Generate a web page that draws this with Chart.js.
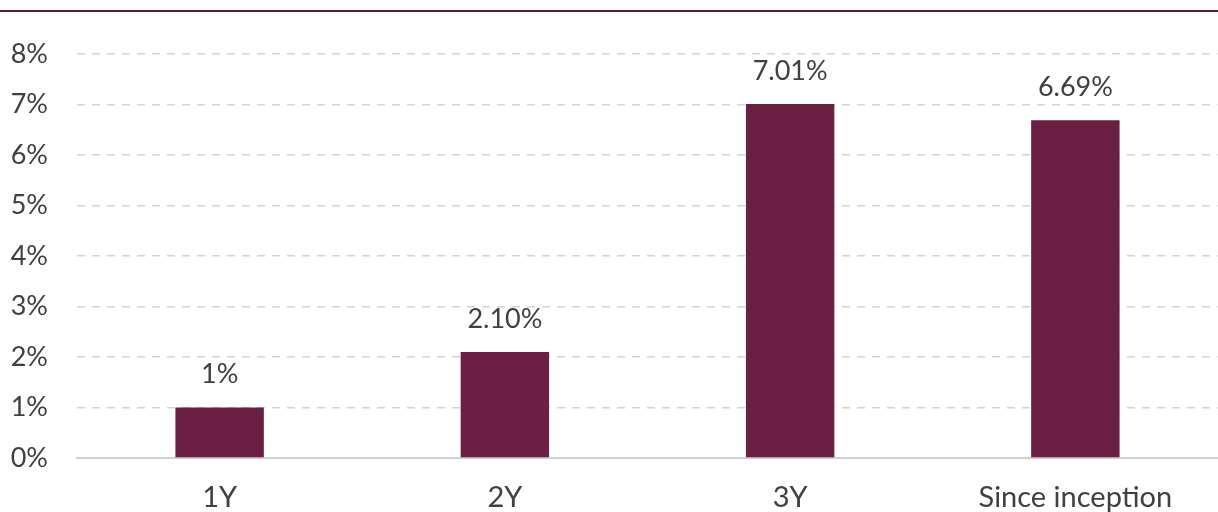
<!DOCTYPE html>
<html>
<head>
<meta charset="utf-8">
<script src="https://cdn.jsdelivr.net/npm/chart.js@4.4.1/dist/chart.umd.min.js"></script>
<style>
  html, body { margin: 0; padding: 0; background: #fff; }
  #wrap { position: relative; width: 1218px; height: 512px; }
  #rule { position: absolute; left: 0; top: 10px; width: 1218px; height: 2px; background: #5e1a3c; }
  canvas { position: absolute; left: 0; top: 0; }
</style>
</head>
<body>
<div id="wrap">
  <canvas id="chart" width="1218" height="512"></canvas>
  <div id="rule"></div>
</div>
<script>
const categories = ['1Y', '2Y', '3Y', 'Since inception'];
const returns = [1, 2.1, 7.01, 6.69];
const valueLabels = ['1%', '2.10%', '7.01%', '6.69%'];

const fontFamily = 'Lato, "Open Sans", sans-serif';

const barLabels = {
  id: 'barLabels',
  afterDatasetsDraw(chart) {
    const ctx = chart.ctx;
    const meta = chart.getDatasetMeta(0);
    ctx.save();
    ctx.font = `27px ${fontFamily}`;
    ctx.fillStyle = '#404040';
    ctx.textAlign = 'center';
    ctx.textBaseline = 'middle';
    meta.data.forEach((bar, i) => {
      ctx.fillText(valueLabels[i], bar.x, bar.y - 33);
    });
    ctx.restore();
  },
};

new Chart(document.getElementById('chart'), {
  type: 'bar',
  data: {
    labels: categories,
    datasets: [
      {
        data: returns,
        backgroundColor: '#6a1f43',
        barPercentage: 0.31,
        categoryPercentage: 1,
      },
    ],
  },
  options: {
    responsive: false,
    animation: false,
    layout: { padding: { top: 54, right: 0, left: 0, bottom: 0 } },
    plugins: {
      legend: { display: false },
      tooltip: { enabled: false },
    },
    scales: {
      x: {
        grid: { display: false },
        border: { color: '#d0d0d0', width: 2 },
        ticks: {
          color: '#404040',
          font: { family: fontFamily, size: 29 },
          padding: 14,
        },
        afterFit: (scale) => { scale.height = 54; },
      },
      y: {
        min: 0,
        max: 8,
        border: { display: false, dash: [8, 7] },
        grid: {
          color: (c) => (c.tick && c.tick.value === 0 ? 'rgba(0,0,0,0)' : '#d4d4d4'),
          lineWidth: 1.5,
          drawTicks: false,
        },
        ticks: {
          stepSize: 1,
          color: '#404040',
          font: { family: fontFamily, size: 27 },
          padding: 29,
          callback: (v) => `${v}%`,
        },
        afterFit: (scale) => { scale.width = 77; },
      },
    },
  },
  plugins: [barLabels],
});
</script>
</body>
</html>
